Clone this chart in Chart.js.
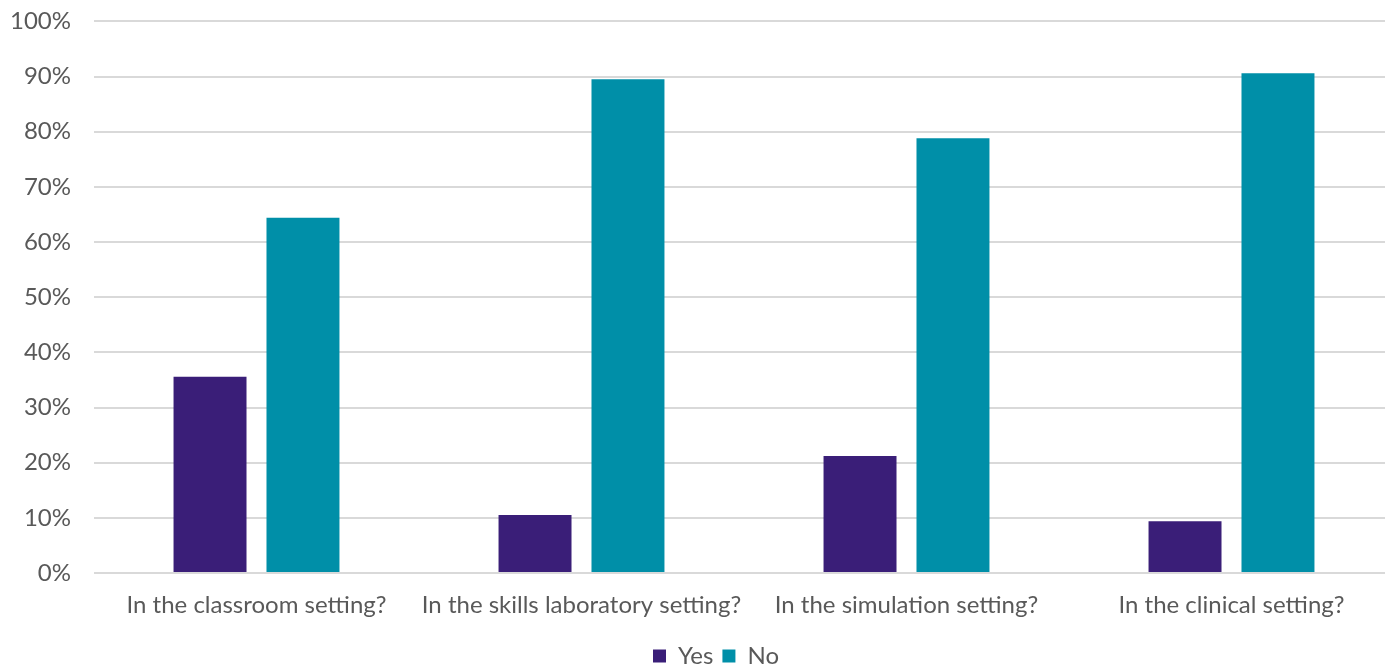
<!DOCTYPE html>
<html>
<head>
<meta charset="utf-8">
<script src="https://cdn.jsdelivr.net/npm/chart.js@4"></script>
<style>
  html, body { margin: 0; padding: 0; background: #fff; overflow: hidden; }
  #wrap { position: absolute; left: 0; top: -16px; width: 1395px; height: 694px; }
</style>
</head>
<body>
<div id="wrap"><canvas id="chart"></canvas></div>
<script>
const settings = ['In the classroom setting?', 'In the skills laboratory setting?', 'In the simulation setting?', 'In the clinical setting?'];
const yesValues = [35.6, 10.5, 21.2, 9.4];
const noValues = [64.4, 89.5, 78.8, 90.6];

Chart.defaults.font.family = 'Lato, "Noto Sans", sans-serif';
Chart.defaults.color = '#595959';

// nudge the legend a little to the right of the canvas centre
const legendShift = {
    id: 'legendShift',
    afterLayout(chart) {
        chart.legend.left += 13;
        chart.legend.right += 13;
    },
};

const ctx = document.getElementById('chart').getContext('2d');
new Chart(ctx, {
    type: 'bar',
    data: {
        labels: settings,
        datasets: [
            {
                label: 'Yes',
                data: yesValues,
                backgroundColor: '#3a1e78',
                categoryPercentage: 0.572,
                barPercentage: 0.785,
            },
            {
                label: 'No',
                data: noValues,
                backgroundColor: '#008fa8',
                categoryPercentage: 0.572,
                barPercentage: 0.785,
            },
        ],
    },
    options: {
        responsive: true,
        maintainAspectRatio: false,
        animation: false,
        layout: {
            padding: { left: 12, top: 0, right: 1, bottom: 0 },
        },
        plugins: {
            legend: {
                display: true,
                position: 'bottom',
                labels: {
                    boxWidth: 13,
                    boxHeight: 13,
                    padding: 9,
                    font: { size: 24 },
                    color: '#595959',
                },
            },
            tooltip: { enabled: false },
        },
        scales: {
            x: {
                grid: { display: false },
                border: { display: false },
                ticks: {
                    font: { size: 24 },
                    padding: 10,
                    maxRotation: 0,
                },
                afterFit: (scale) => { scale.height = 62; },
            },
            y: {
                min: 0,
                max: 100,
                grid: { color: '#d9d9d9', lineWidth: 2, drawTicks: false },
                border: { display: false },
                ticks: {
                    stepSize: 10,
                    padding: 23,
                    font: { size: 24 },
                    callback: (v) => v + '%',
                },
                afterFit: (scale) => { scale.width = 82; },
            },
        },
    },
    plugins: [legendShift],
});
</script>
</body>
</html>
